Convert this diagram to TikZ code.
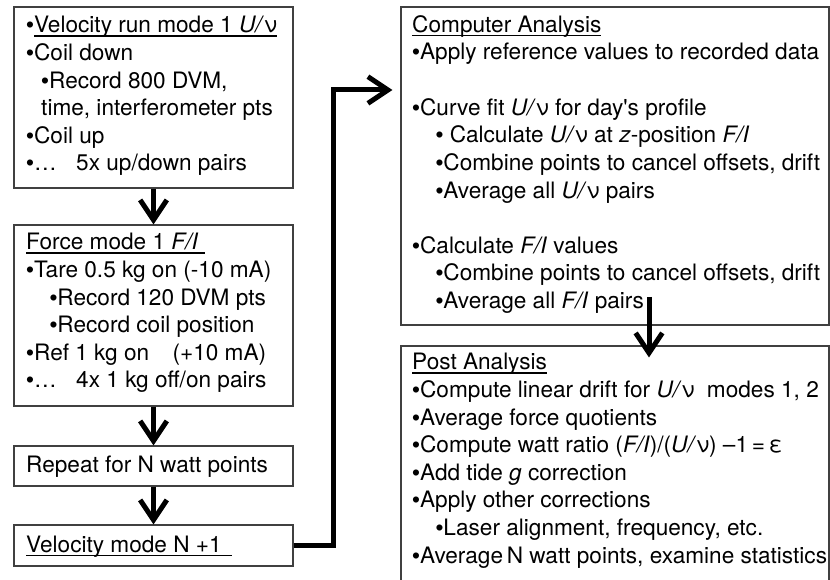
\documentclass[tikz,border=0pt]{standalone}
\usepackage{fontspec}
\setmainfont{TeX Gyre Heros}
\newfontfamily\bulletfont{Liberation Sans}
\usetikzlibrary{arrows.meta}
\newcommand{\ulbox}[1]{\setbox0\hbox{#1}\rlap{\rule[-3.3pt]{\wd0}{1pt}}\box0}
\newcommand{\bl}{{\bulletfont •}}

\begin{document}
\begin{tikzpicture}[x=0.3mm, y=-0.3mm,
        every node/.style={font=\fontsize{19.3pt}{23.6pt}\selectfont},
        panel/.style={draw=black!75, line width=0.35mm, inner sep=0pt},
        notes/.style={anchor=north west, align=left, inner sep=0pt,
            execute at begin node=\rule{0pt}{6mm}},
        flow/.style={line width=1.5mm, -{Straight Barb[length=6mm,width=8mm]}}]
    \useasboundingbox (0,0) rectangle (830,580);
    \clip (0,0) rectangle (830,580);

    \node[panel, minimum width=83.7mm, minimum height=54.3mm] (vrun) at (153.5,97.5) {};
    \node[panel, minimum width=83.7mm, minimum height=54.3mm] (force) at (153.5,315.5) {};
    \node[panel, minimum width=83.7mm, minimum height=12mm] (rep) at (153.5,466) {};
    \node[panel, minimum width=83.7mm, minimum height=12.3mm] (vlast) at (153.5,545.5) {};

    \node[panel, minimum width=128.4mm, minimum height=95.4mm] (ca) at (615,166) {};
    \node[panel, minimum width=128.4mm, minimum height=75mm] (pa) at (615,471) {};

    \node[notes] (vrun-t) at (26,16) {%
        \bl\ulbox{Velocity run mode 1 \textit{U/}ν}\\
        \bl Coil down\\
        \hspace*{4.5mm}\bl Record 800 DVM,\\
        \hspace*{4.5mm}time, interferometer pts\\
        \bl Coil up\\
        \makebox[15mm][l]{\bl…}5x up/down pairs};
    \node[notes] (force-t) at (26,233) {%
        \ulbox{Force mode 1 \textit{F/I}\ }\\
        \bl Tare 0.5 kg on (-10 mA)\\
        \hspace*{7mm}\bl Record 120 DVM pts\\
        \hspace*{7mm}\bl Record coil position\\
        \bl Ref 1 kg on\hspace{7mm}(+10 mA)\\
        \makebox[15mm][l]{\bl…}4x 1 kg off/on pairs};
    \node[notes] (rep-t) at (26,452) {Repeat for N watt points};
    \node[notes] (vlast-t) at (26,532) {\ulbox{Velocity mode N +1\hspace{3mm}}};

    \node[notes] (ca-t) at (412,15) {%
        \ulbox{Computer Analysis}\\
        \bl Apply reference values to recorded data\\[8.3mm]
        \bl Curve fit \textit{U/}ν for day\textquotesingle s profile\\
        \hspace*{7mm}\bl\ Calculate \textit{U/}ν at \textit{z}-position \textit{F/I}\\
        \hspace*{7mm}\bl Combine points to cancel offsets, drift\\
        \hspace*{7mm}\bl Average all \textit{U/}ν pairs\\[8.3mm]
        \bl Calculate \textit{F/I} values\\
        \hspace*{7mm}\bl Combine points to cancel offsets, drift\\
        \hspace*{7mm}\bl Average all \textit{F/I} pairs};
    \node[notes] (pa-t) at (412,353) {%
        \ulbox{Post Analysis}\\
        \bl Compute linear drift for \textit{U/}ν\ \ modes 1, 2\\
        \bl Average force quotients\\
        \bl Compute watt ratio (\textit{F/I})/(\textit{U/}ν) --1\,=\,ε\\
        \bl Add tide \textit{g} correction\\
        \bl Apply other corrections\\
        \hspace*{7mm}\bl Laser alignment, frequency, etc.\\
        \bl Average\,N watt points, examine statistics};

    \coordinate (bend) at (333,90);
    \coordinate (fstart) at (649,297);

    \draw[flow] (vrun) -- (force);
    \draw[flow] (force) -- (rep);
    \draw[flow] (rep) -- (vlast);
    \draw[flow, shorten >=2.4mm] (vlast.east) -| (bend) -- (ca.west |- bend);
    \draw[flow, shorten >=-3.6mm] (fstart) -- (fstart |- pa.north);
\end{tikzpicture}
\end{document}
